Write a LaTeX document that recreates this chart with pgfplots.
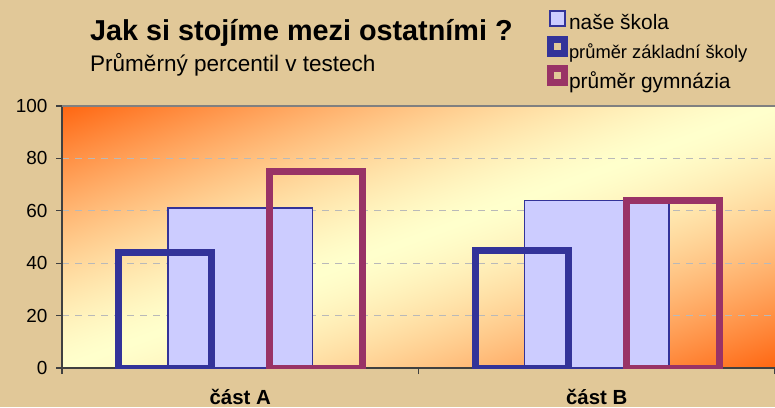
\documentclass[border=0pt]{standalone}
\usepackage{pgfplots}
\pgfplotsset{compat=1.18}
\usepackage{fontspec}
\setmainfont{Liberation Sans}
\definecolor{bgtan}{RGB}{225,200,152}
\definecolor{lav}{RGB}{204,204,255}
\definecolor{dblue}{RGB}{51,51,153}
\definecolor{maroonc}{RGB}{153,51,102}
\definecolor{axgray}{RGB}{64,64,64}
\pgfdeclarefunctionalshading{diagshade}{\pgfpoint{0bp}{0bp}}{\pgfpoint{100bp}{100bp}}{}{
sub abs 50 div dup 1 gt {pop 1} if 1.4 exp dup 0.6 mul 1 exch sub exch 0.7333 mul 0.8 exch sub 1 3 1 roll
}
\begin{document}
\begin{tikzpicture}[x=1bp,y=1bp]
\fill[bgtan] (0,0) rectangle (775,407);
\node[anchor=base west, inner sep=0pt, font=\bfseries\fontsize{28.9}{34}\selectfont] at (90,366.3) {Jak si stojíme mezi ostatními ?};
\node[anchor=base west, inner sep=0pt, font=\fontsize{22.6}{27}\selectfont] at (90,336) {Průměrný percentil v testech};
\begin{axis}[
  at={(62bp,39bp)}, anchor=south west,
  scale only axis, width=713bp, height=262bp,
  ymin=0, ymax=100, xmin=-0.5, xmax=1.5,
  axis background/.style={shade, shading=diagshade},
  axis x line*=bottom, axis y line*=left,
  axis line style={draw=axgray, line width=1.5bp},
  tick align=outside,
  major tick length=6bp,
  tick style={draw=axgray, line width=1.2bp},
  ytick={0,20,40,60,80,100},
  yticklabel style={font=\fontsize{19}{23}\selectfont, xshift=-5bp},
  /pgf/number format/assume math mode=true,
  xtick={-0.5,0.5,1.5}, xticklabels={},
  extra x ticks={0,1},
  extra x tick labels={\textbf{část A},\textbf{část B}},
  extra x tick style={major tick length=0pt, xticklabel style={anchor=base, yshift=-36bp, font=\bfseries\fontsize{20.5}{24}\selectfont}},
  ymajorgrids,
  grid style={draw=gray!55, line width=1bp, dash pattern=on 7bp off 6bp},
  legend style={at={(axis description cs:0.680,1.3653)}, anchor=north west,
    draw=none, fill=none, inner sep=0pt, row sep=4bp,
    nodes={inner sep=1bp},
    font=\fontsize{21}{24}\selectfont,
    /tikz/every odd column/.append style={column sep=0bp}},
  legend cell align=left,
]
\addplot[ybar, bar width=0.4045, bar shift=0, fill=lav, draw=dblue, line width=1.5bp,
  legend image code/.code={\draw[fill=lav, draw=dblue, line width=2bp] (3bp,-4bp) rectangle (18bp,11bp);}]
  coordinates {(0,61) (1,64)};
\addlegendentry{naše škola\rule[-11.7bp]{0pt}{21bp}}
\addplot[ybar, bar width=0.261, bar shift=-0.21, fill=none, draw=dblue, line width=7bp, line join=miter,
  legend image code/.code={\draw[fill=none, draw=dblue, line width=7bp] (3.5bp,-1.5bp) rectangle (17.5bp,12.5bp);}]
  coordinates {(0,44) (1,45)};
\addlegendentry{\fontsize{18.4}{22}\selectfont průměr základní školy\rule[-9.3bp]{0pt}{21bp}}
\addplot[ybar, bar width=0.261, bar shift=0.2135, fill=none, draw=maroonc, line width=7bp, line join=miter,
  legend image code/.code={\draw[fill=none, draw=maroonc, line width=7bp] (3.5bp,-1.5bp) rectangle (17.5bp,12.5bp);}]
  coordinates {(0,75) (1,64)};
\addlegendentry{průměr gymnázia\rule[-7bp]{0pt}{21bp}}
\draw[draw=gray, line width=1.5bp] (rel axis cs:0,1) -- (rel axis cs:1,1);
\end{axis}
\pgfresetboundingbox
\path[use as bounding box] (0,0) rectangle (775,407);
\end{tikzpicture}
\end{document}
